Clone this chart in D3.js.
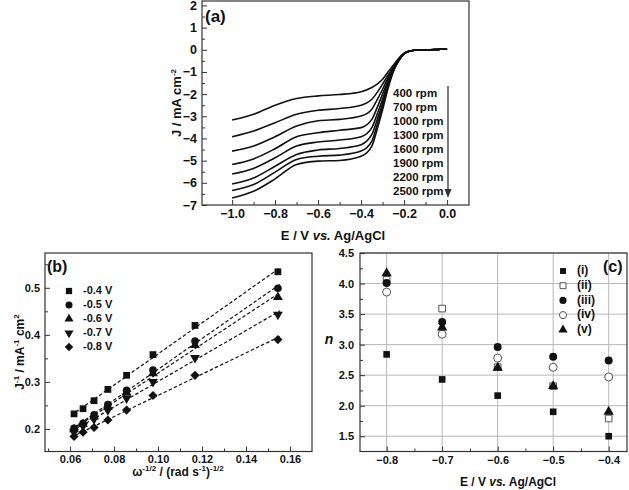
<!DOCTYPE html>
<html><head><meta charset="utf-8">
<script src="https://cdn.jsdelivr.net/npm/d3@7"></script>
<style>
body{margin:0;background:#fff}
text{font-family:"Liberation Sans",Arial,sans-serif;font-weight:bold;fill:#111}
</style>
</head><body>
<svg id="chart" width="629" height="490"></svg>
<script>
// ---------- Panel (a) data: LSV curves ----------
const potentialA = [-1.0,-0.9,-0.8,-0.7,-0.6,-0.5,-0.4,-0.35,-0.325,-0.3,-0.275,-0.25,-0.225,-0.2,-0.175,-0.15,-0.1,-0.05,0];
const rpmLabels = ["400 rpm","700 rpm","1000 rpm","1300 rpm","1600 rpm","1900 rpm","2200 rpm","2500 rpm"];
const j400  = [-3.17,-2.91,-2.50,-2.20,-2.08,-2.02,-1.89,-1.70,-1.55,-1.33,-1.00,-0.70,-0.38,-0.15,-0.06,-0.02,0.00,0.01,0.05];
const j700  = [-3.92,-3.66,-3.29,-2.91,-2.73,-2.65,-2.50,-2.23,-1.92,-1.55,-1.15,-0.78,-0.42,-0.17,-0.06,-0.02,0.00,0.01,0.05];
const j1000 = [-4.57,-4.34,-3.92,-3.44,-3.20,-3.14,-2.99,-2.68,-2.25,-1.78,-1.28,-0.83,-0.44,-0.17,-0.06,-0.02,0.00,0.01,0.05];
const j1300 = [-5.17,-4.92,-4.46,-3.92,-3.74,-3.63,-3.51,-3.14,-2.60,-2.00,-1.40,-0.87,-0.46,-0.17,-0.06,-0.02,0.00,0.01,0.05];
const j1600 = [-5.60,-5.35,-4.87,-4.34,-4.16,-4.07,-3.92,-3.51,-2.90,-2.23,-1.50,-0.90,-0.47,-0.18,-0.06,-0.02,0.00,0.01,0.05];
const j1900 = [-6.05,-5.78,-5.25,-4.72,-4.52,-4.45,-4.28,-3.82,-3.15,-2.41,-1.60,-0.93,-0.48,-0.18,-0.06,-0.02,0.00,0.01,0.05];
const j2200 = [-6.35,-6.08,-5.52,-4.95,-4.80,-4.75,-4.57,-4.12,-3.38,-2.56,-1.68,-0.96,-0.49,-0.18,-0.06,-0.02,0.00,0.01,0.05];
const j2500 = [-6.68,-6.38,-5.82,-5.17,-5.02,-4.99,-4.80,-4.34,-3.58,-2.71,-1.76,-0.99,-0.50,-0.19,-0.06,-0.02,0.00,0.01,0.05];
const curvesA = [j400,j700,j1000,j1300,j1600,j1900,j2200,j2500];
const xTicksA = [-1.0,-0.8,-0.6,-0.4,-0.2,0.0];
const yTicksA = [-7,-6,-5,-4,-3,-2,-1,0,1,2];

// ---------- Panel (b) data: Koutecky-Levich ----------
const omegaInvSqrt = [0.0618,0.0659,0.0709,0.0772,0.0857,0.0977,0.1168,0.1545];
const kl04 = [0.232,0.243,0.260,0.284,0.314,0.358,0.420,0.534];
const kl05 = [0.201,0.212,0.230,0.252,0.282,0.325,0.387,0.499];
const kl06 = [0.199,0.210,0.226,0.247,0.277,0.318,0.378,0.480];
const kl07 = [0.193,0.206,0.221,0.240,0.265,0.300,0.351,0.443];
const kl08 = [0.184,0.193,0.203,0.219,0.240,0.271,0.314,0.390];
const klLabels = ["-0.4 V","-0.5 V","-0.6 V","-0.7 V","-0.8 V"];
const klSeries = [kl04,kl05,kl06,kl07,kl08];
const xTicksB = [0.06,0.08,0.10,0.12,0.14,0.16];
const yTicksB = [0.2,0.3,0.4,0.5];

// ---------- Panel (c) data: electron number ----------
const potentialC = [-0.8,-0.7,-0.6,-0.5,-0.4];
const nI   = [2.84,2.43,2.165,1.90,1.50];
const nII  = [4.06,3.59,2.63,2.32,1.79];
const nIII = [4.01,3.37,2.96,2.80,2.74];
const nIV  = [3.86,3.17,2.78,2.63,2.47];
const nV   = [4.17,3.28,2.62,2.32,1.90];
const nLabels = ["(i)","(ii)","(iii)","(iv)","(v)"];
const nSeries = [nI,nII,nIII,nIV,nV];
const xTicksC = [-0.8,-0.7,-0.6,-0.5,-0.4];
const yTicksC = [1.5,2.0,2.5,3.0,3.5,4.0,4.5];

const svg = d3.select("#chart");
const INK = "#111", FRAME = "#333";

function drawAxes(x, y, o){
  const [x0,x1] = x.range(), [y0,y1] = y.range();
  const g = svg.append("g");
  g.append("g").attr("transform",`translate(0,${y0})`)
    .call(d3.axisBottom(x).tickValues(o.xMin).tickSize(-3).tickFormat(""));
  g.append("g").attr("transform",`translate(${x0},0)`)
    .call(d3.axisLeft(y).tickValues(o.yMin).tickSize(-3).tickFormat(""));
  g.append("g").attr("transform",`translate(0,${y0})`)
    .call(d3.axisBottom(x).tickValues(o.xMaj).tickSize(-5).tickPadding(o.xPad).tickFormat(o.xFmt));
  g.append("g").attr("transform",`translate(${x0},0)`)
    .call(d3.axisLeft(y).tickValues(o.yMaj).tickSize(-5).tickPadding(o.yPad).tickFormat(o.yFmt));
  g.selectAll(".domain").remove();
  g.selectAll(".tick line").attr("stroke",FRAME).attr("stroke-width",1);
  g.selectAll(".tick text").style("font-size",o.fs+"px").style("font-family",'"Liberation Sans",Arial,sans-serif').style("font-weight","bold").attr("fill",INK);
  svg.append("rect").attr("x",x0).attr("y",y1).attr("width",x1-x0).attr("height",y0-y1)
    .attr("fill","none").attr("stroke",FRAME).attr("stroke-width",1.2);
}

// ================= Panel (a) =================
const xA = d3.scaleLinear().domain([-1.14,0.102]).range([202,469]);
const yA = d3.scaleLinear().domain([-7,2.2]).range([205,1]);
const lineA = d3.line().x((d,i)=>xA(potentialA[i])).y(d=>yA(d)).curve(d3.curveMonotoneX);
curvesA.forEach(c=>{
  svg.append("path").attr("d",lineA(c)).attr("fill","none").attr("stroke",INK).attr("stroke-width",1.6);
});
drawAxes(xA,yA,{
  xMaj:xTicksA, xMin:[-0.9,-0.7,-0.5,-0.3,-0.1], yMaj:yTicksA,
  yMin:d3.range(-6.5,2,1), xFmt:d3.format(".1f"), yFmt:d3.format("d"),
  xPad:4, yPad:5, fs:12.5
});
rpmLabels.forEach((t,i)=>{
  svg.append("text").attr("x",393).attr("y",94+i*14).attr("dominant-baseline","middle")
    .style("font-size","11.5px").text(t);
});
svg.append("line").attr("x1",448).attr("x2",448).attr("y1",86).attr("y2",192)
  .attr("stroke","#333").attr("stroke-width",1.3);
svg.append("path").attr("d","M444.5,189 L451.5,189 L448,198 Z").attr("fill","#333");
svg.append("text").attr("x",205).attr("y",22).style("font-size","17px").text("(a)");
svg.append("text").attr("x",333).attr("y",240).attr("text-anchor","middle").style("font-size","13px")
  .call(t=>{t.append("tspan").text("E / V ");t.append("tspan").style("font-style","italic").text("vs.");t.append("tspan").text(" Ag/AgCl");});
svg.append("text").attr("transform","translate(181,103) rotate(-90)").attr("text-anchor","middle").style("font-size","13px")
  .call(t=>{t.append("tspan").text("J / mA cm");t.append("tspan").attr("dy",-5).style("font-size","8px").text("-2");});

// ================= Panel (b) =================
const xB = d3.scaleLinear().domain([0.0486,0.17]).range([45,312]);
const yB = d3.scaleLinear().domain([0.152,0.574]).range([451.5,253]);
const symsB = [
  {t:d3.symbolSquare, s:46, r:0},
  {t:d3.symbolCircle, s:46, r:0},
  {t:d3.symbolTriangle, s:42, r:0},
  {t:d3.symbolTriangle, s:42, r:180},
  {t:d3.symbolSquare, s:42, r:45}
];
klSeries.forEach(s=>{
  const mx = d3.mean(omegaInvSqrt), my = d3.mean(s);
  const b = d3.sum(omegaInvSqrt.map((x,i)=>(x-mx)*(s[i]-my)))/d3.sum(omegaInvSqrt.map(x=>(x-mx)*(x-mx)));
  const a = my - b*mx;
  const xa = 0.0605, xb = 0.1555;
  svg.append("line").attr("x1",xB(xa)).attr("y1",yB(a+b*xa)).attr("x2",xB(xb)).attr("y2",yB(a+b*xb))
    .attr("stroke",INK).attr("stroke-width",1.2).attr("stroke-dasharray","3.5,2.2");
});
klSeries.forEach((s,k)=>{
  const sb = symsB[k];
  svg.append("g").selectAll("path").data(s).join("path")
    .attr("d",d3.symbol().type(sb.t).size(sb.s))
    .attr("transform",(d,i)=>`translate(${xB(omegaInvSqrt[i])},${yB(d)}) rotate(${sb.r})`)
    .attr("fill",INK);
});
drawAxes(xB,yB,{
  xMaj:xTicksB, xMin:[0.05,0.07,0.09,0.11,0.13,0.15], yMaj:yTicksB, yMin:[0.25,0.35,0.45,0.55],
  xFmt:d3.format(".2f"), yFmt:d3.format(".1f"), xPad:4, yPad:5, fs:11
});
klLabels.forEach((t,i)=>{
  const sb = symsB[i], yy = 291+i*14;
  svg.append("path").attr("d",d3.symbol().type(sb.t).size(sb.s*0.85)())
    .attr("transform",`translate(69,${yy}) rotate(${sb.r})`).attr("fill",INK);
  svg.append("text").attr("x",83).attr("y",yy).attr("dominant-baseline","middle").style("font-size","11px").text(t);
});
svg.append("text").attr("x",47).attr("y",272).style("font-size","16px").text("(b)");
svg.append("text").attr("x",178).attr("y",476).attr("text-anchor","middle").style("font-size","12px")
  .call(t=>{
    t.append("tspan").text("ω");
    t.append("tspan").attr("dy",-5).style("font-size","8px").text("-1/2");
    t.append("tspan").attr("dy",5).text(" / (rad s");
    t.append("tspan").attr("dy",-5).style("font-size","8px").text("-1");
    t.append("tspan").attr("dy",5).text(")");
    t.append("tspan").attr("dy",-5).style("font-size","8px").text("-1/2");
  });
svg.append("text").attr("transform","translate(24,352) rotate(-90)").attr("text-anchor","middle").style("font-size","12px")
  .call(t=>{
    t.append("tspan").text("J");
    t.append("tspan").attr("dy",-5).style("font-size","8px").text("-1");
    t.append("tspan").attr("dy",5).text(" / mA");
    t.append("tspan").attr("dy",-5).style("font-size","8px").text("-1");
    t.append("tspan").attr("dy",5).text(" cm");
    t.append("tspan").attr("dy",-5).style("font-size","8px").text("2");
  });

// ================= Panel (c) =================
const xC = d3.scaleLinear().domain([-0.848,-0.367]).range([360,627]);
const yC = d3.scaleLinear().domain([1.25,4.5]).range([451.5,253]);
svg.append("g").selectAll("line").data(xTicksC).join("line")
  .attr("x1",d=>xC(d)).attr("x2",d=>xC(d)).attr("y1",253).attr("y2",451.5)
  .attr("stroke","#b8b8b8").attr("stroke-width",1);
svg.append("g").selectAll("line").data(yTicksC).join("line")
  .attr("y1",d=>yC(d)).attr("y2",d=>yC(d)).attr("x1",360).attr("x2",627)
  .attr("stroke","#b8b8b8").attr("stroke-width",1);
const symsC = [
  {t:d3.symbolSquare, s:44, fill:INK, stroke:"none"},
  {t:d3.symbolSquare, s:44, fill:"#fff", stroke:"#555"},
  {t:d3.symbolCircle, s:50, fill:INK, stroke:"none"},
  {t:d3.symbolCircle, s:50, fill:"#fff", stroke:"#555"},
  {t:d3.symbolTriangle, s:46, fill:INK, stroke:"none"}
];
nSeries.forEach((s,k)=>{
  const sc = symsC[k];
  svg.append("g").selectAll("path").data(s).join("path")
    .attr("d",d3.symbol().type(sc.t).size(sc.s))
    .attr("transform",(d,i)=>`translate(${xC(potentialC[i])},${yC(d)})`)
    .attr("fill",sc.fill).attr("stroke",sc.stroke).attr("stroke-width",1);
});
drawAxes(xC,yC,{
  xMaj:xTicksC, xMin:[-0.75,-0.65,-0.55,-0.45], yMaj:yTicksC, yMin:[1.75,2.25,2.75,3.25,3.75,4.25],
  xFmt:d3.format(".1f"), yFmt:d3.format(".1f"), xPad:5, yPad:6, fs:11
});
nLabels.forEach((t,i)=>{
  const sc = symsC[i], yy = 271+i*14.7;
  svg.append("path").attr("d",d3.symbol().type(sc.t).size(sc.s*0.8)())
    .attr("transform",`translate(563,${yy})`).attr("fill",sc.fill).attr("stroke",sc.stroke).attr("stroke-width",1);
  svg.append("text").attr("x",577).attr("y",yy).attr("dominant-baseline","middle").style("font-size","12px").text(t);
});
svg.append("text").attr("x",603).attr("y",272).style("font-size","16px").text("(c)");
svg.append("text").attr("x",508).attr("y",486).attr("text-anchor","middle").style("font-size","12px")
  .call(t=>{t.append("tspan").text("E / V ");t.append("tspan").style("font-style","italic").text("vs.");t.append("tspan").text(" Ag/AgCl");});
svg.append("text").attr("x",329).attr("y",344).attr("text-anchor","middle").style("font-size","14px").style("font-style","italic").text("n");
</script>
</body></html>
